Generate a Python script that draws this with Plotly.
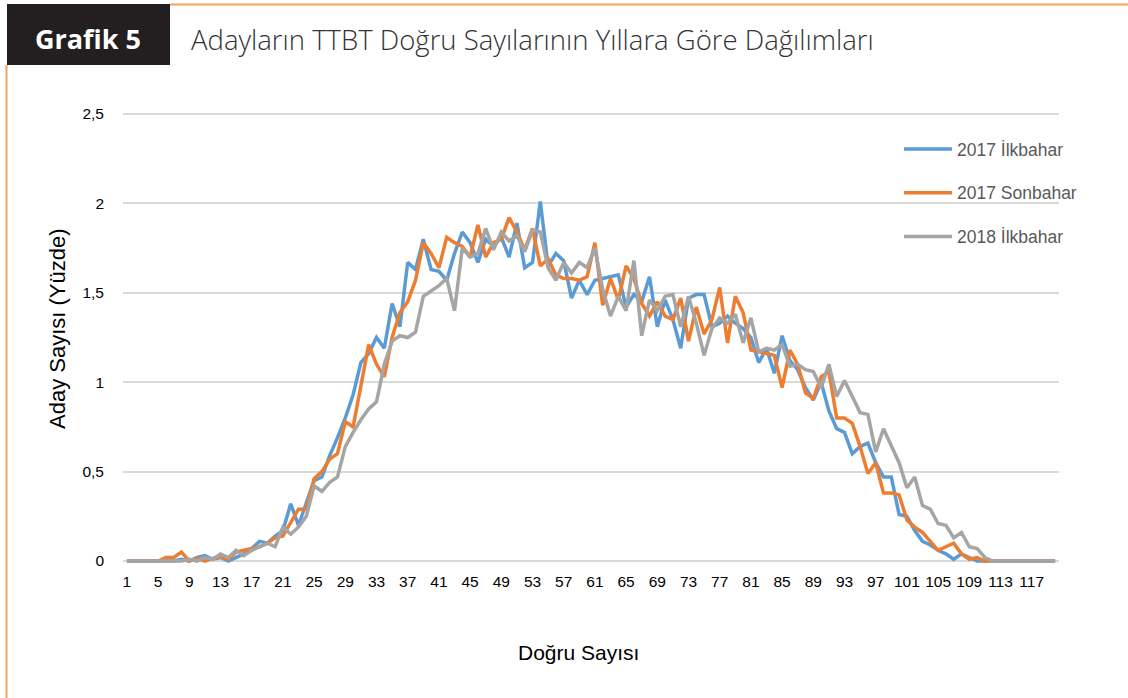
import plotly.graph_objects as go

W, H = 1128, 698
ML, MR, MT, MB = 123, 69, 105, 128

categories = list(range(1, 121))

ilkbahar_2017 = [0, 0, 0, 0, 0, 0, 0, 0.01, 0.0, 0.02,
                 0.03, 0.01, 0.02, 0.0, 0.02, 0.04, 0.07, 0.11, 0.10, 0.14,
                 0.17, 0.32, 0.20, 0.33, 0.45, 0.47, 0.59, 0.69, 0.80, 0.93,
                 1.11, 1.16, 1.25, 1.19, 1.44, 1.31, 1.67, 1.63, 1.80, 1.63,
                 1.62, 1.57, 1.72, 1.84, 1.78, 1.67, 1.80, 1.76, 1.81, 1.70,
                 1.89, 1.64, 1.67, 2.01, 1.65, 1.72, 1.68, 1.47, 1.57, 1.49,
                 1.57, 1.58, 1.59, 1.60, 1.42, 1.49, 1.45, 1.59, 1.31, 1.46,
                 1.35, 1.19, 1.47, 1.49, 1.49, 1.31, 1.33, 1.37, 1.33, 1.30,
                 1.25, 1.11, 1.19, 1.05, 1.26, 1.12, 1.07, 0.97, 0.90, 1.00,
                 0.84, 0.74, 0.72, 0.60, 0.64, 0.66, 0.55, 0.47, 0.47, 0.26,
                 0.25, 0.17, 0.11, 0.09, 0.06, 0.04, 0.01, 0.04, 0.02, 0,
                 0, 0, 0, 0, 0, 0, 0, 0, 0, 0]

sonbahar_2017 = [0, 0, 0, 0, 0, 0.02, 0.02, 0.05, 0.0, 0.015,
                 0.0, 0.015, 0.025, 0.01, 0.05, 0.06, 0.07, 0.08, 0.10, 0.13,
                 0.14, 0.22, 0.29, 0.29, 0.46, 0.50, 0.57, 0.60, 0.78, 0.75,
                 0.97, 1.21, 1.10, 1.03, 1.25, 1.39, 1.45, 1.57, 1.78, 1.72,
                 1.64, 1.81, 1.78, 1.76, 1.70, 1.88, 1.70, 1.78, 1.80, 1.92,
                 1.84, 1.74, 1.86, 1.65, 1.69, 1.60, 1.58, 1.58, 1.57, 1.59,
                 1.78, 1.43, 1.58, 1.46, 1.65, 1.58, 1.44, 1.37, 1.45, 1.37,
                 1.35, 1.47, 1.23, 1.42, 1.27, 1.35, 1.53, 1.22, 1.48, 1.39,
                 1.18, 1.17, 1.16, 1.15, 0.97, 1.18, 1.10, 0.94, 0.91, 1.03,
                 1.06, 0.80, 0.80, 0.77, 0.64, 0.49, 0.55, 0.38, 0.38, 0.37,
                 0.23, 0.19, 0.16, 0.11, 0.06, 0.08, 0.10, 0.04, 0.01, 0.02,
                 0, 0, 0, 0, 0, 0, 0, 0, 0, 0]

ilkbahar_2018 = [0, 0, 0, 0, 0, 0, 0, 0, 0.01, 0.0,
                 0.02, 0.01, 0.04, 0.02, 0.06, 0.03, 0.06, 0.08, 0.10, 0.08,
                 0.19, 0.15, 0.19, 0.25, 0.42, 0.39, 0.44, 0.47, 0.64, 0.72,
                 0.79, 0.85, 0.89, 1.10, 1.23, 1.26, 1.25, 1.28, 1.48, 1.51,
                 1.54, 1.58, 1.40, 1.75, 1.70, 1.72, 1.86, 1.74, 1.84, 1.79,
                 1.82, 1.73, 1.85, 1.84, 1.64, 1.57, 1.67, 1.61, 1.67, 1.64,
                 1.75, 1.52, 1.37, 1.48, 1.40, 1.68, 1.26, 1.46, 1.40, 1.48,
                 1.49, 1.31, 1.48, 1.33, 1.15, 1.30, 1.36, 1.33, 1.38, 1.22,
                 1.36, 1.17, 1.19, 1.18, 1.21, 1.09, 1.10, 1.07, 1.06, 0.97,
                 1.10, 0.92, 1.01, 0.92, 0.83, 0.82, 0.61, 0.74, 0.64, 0.55,
                 0.41, 0.47, 0.31, 0.29, 0.21, 0.20, 0.13, 0.16, 0.08, 0.07,
                 0.02, 0, 0, 0, 0, 0, 0, 0, 0, 0]

x_tick_labels = [str(v) for v in range(1, 121, 4)]
y_tick_values = [0, 0.5, 1, 1.5, 2, 2.5]

series_names = ["2017 İlkbahar", "2017 Sonbahar", "2018 İlkbahar"]
series_colors = ["#5B9BD5", "#ED7D31", "#A5A5A5"]
series_values = [ilkbahar_2017, sonbahar_2017, ilkbahar_2018]

fig = go.Figure()
for name, color, vals in zip(series_names, series_colors, series_values):
    fig.add_trace(go.Scatter(
        x=categories, y=vals, mode="lines", name=name, legendgroup=name,
        line=dict(color=color, width=3.5), hoverinfo="skip"))

pw = W - ML - MR
ph = H - MT - MB

def px(p):
    return (p - ML) / pw

def py(p):
    return (H - MB - p) / ph

shapes = [
    dict(type="rect", xref="paper", yref="paper", x0=px(7), x1=px(170), y0=py(65), y1=py(4),
         fillcolor="#231F20", line=dict(width=0), layer="above"),
    dict(type="line", xref="paper", yref="paper", x0=px(170), x1=px(1128), y0=py(4.5), y1=py(4.5),
         line=dict(color="#F4A15D", width=2)),
    dict(type="line", xref="paper", yref="paper", x0=px(6.5), x1=px(6.5), y0=py(65), y1=py(698),
         line=dict(color="#F4A15D", width=2)),
]

annotations = [
    dict(text="<b>Grafik 5</b>", xref="paper", yref="paper", x=px(88), y=py(38),
         xanchor="center", yanchor="middle", showarrow=False,
         font=dict(family="Open Sans", size=27, color="white")),
    dict(text="Adayların TTBT Doğru Sayılarının Yıllara Göre Dağılımları", xref="paper", yref="paper",
         x=px(189), y=py(40), xanchor="left", yanchor="middle", showarrow=False,
         font=dict(family="Open Sans", size=27.5, color="#333333", weight=300)),
    dict(text="Doğru Sayısı", xref="paper", yref="paper", x=px(578), y=py(652),
         xanchor="center", yanchor="middle", showarrow=False,
         font=dict(family="Liberation Sans", size=21, color="#000000")),
    dict(text="Aday Sayısı (Yüzde)", xref="paper", yref="paper", x=px(57), y=py(329),
         xanchor="center", yanchor="middle", showarrow=False, textangle=-90,
         font=dict(family="Liberation Sans", size=22, color="#000000")),
]

fig.update_layout(
    width=W, height=H,
    margin=dict(l=ML, r=MR, t=MT, b=MB),
    paper_bgcolor="white", plot_bgcolor="white",
    separators=", ",
    font=dict(family="Liberation Sans", color="#000000"),
    shapes=shapes, annotations=annotations,
    showlegend=True,
    legend=dict(x=px(899), y=py(131), xanchor="left", yanchor="top",
                bgcolor="rgba(0,0,0,0)", tracegroupgap=18, itemwidth=48,
                font=dict(family="Liberation Sans", size=17.5, color="#595959")),
    xaxis=dict(range=[0.5, 120.5], tickmode="array",
               tickvals=list(range(1, 121, 4)), ticktext=x_tick_labels,
               showgrid=False, zeroline=False, showline=False, ticks="",
               tickfont=dict(size=15.5, color="#000000")),
    yaxis=dict(range=[-0.05, 2.55], tickmode="array", tickvals=y_tick_values,
               showgrid=True, gridcolor="#D9D9D9", gridwidth=2, zeroline=False,
               showline=False, ticks="", ticklabelstandoff=18,
               tickfont=dict(size=15.5, color="#000000")),
)

fig.write_html("out.html", config={"displayModeBar": False},
               post_script="document.body.style.margin='0';")
